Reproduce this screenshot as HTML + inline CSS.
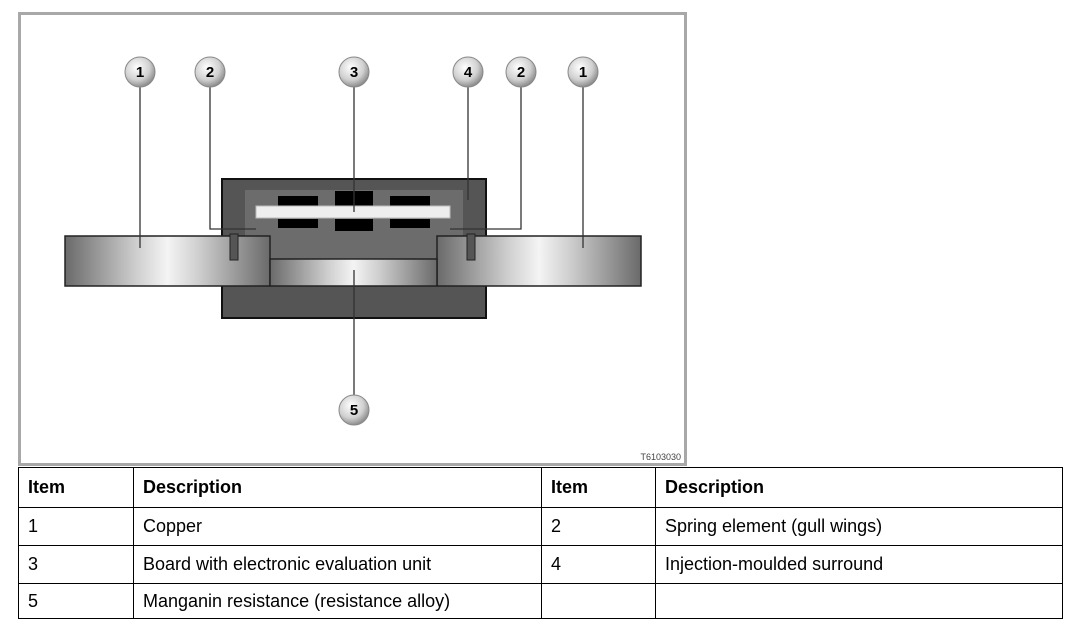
<!DOCTYPE html>
<html><head><style>
body{margin:0;background:#fff;width:1071px;height:629px;position:relative;overflow:hidden;font-family:"Liberation Sans",Arial,sans-serif}
svg{position:absolute;left:0;top:0}
table{position:absolute;left:18px;top:467px;border-collapse:collapse;font-size:18px;color:#000}
td{border:1px solid #000;padding:0 0 0 9px;vertical-align:middle}
</style></head><body>
<svg width="1071" height="470" viewBox="0 0 1071 470">
<defs>
<linearGradient id="cu" x1="0" x2="1" y1="0" y2="0">
<stop offset="0" stop-color="#6a6a6a"/><stop offset="0.35" stop-color="#cfcfcf"/><stop offset="0.5" stop-color="#f4f4f4"/><stop offset="0.65" stop-color="#cfcfcf"/><stop offset="1" stop-color="#6a6a6a"/>
</linearGradient>
<radialGradient id="ball" cx="0.4" cy="0.35" r="0.7">
<stop offset="0" stop-color="#fff"/><stop offset="0.6" stop-color="#d0d0d0"/><stop offset="1" stop-color="#808080"/>
</radialGradient>
</defs>
<rect x="19.5" y="13.5" width="666" height="451" fill="#fff" stroke="#a8a8a8" stroke-width="3"/>
<rect x="222" y="179" width="264" height="139" fill="#555" stroke="#111" stroke-width="2"/>
<rect x="245" y="190" width="218" height="69" fill="#6c6c6c"/>
<rect x="278" y="196" width="40" height="10" fill="#000"/>
<rect x="335" y="191" width="38" height="15" fill="#000"/>
<rect x="390" y="196" width="40" height="10" fill="#000"/>
<rect x="278" y="219" width="40" height="9" fill="#000"/>
<rect x="335" y="219" width="38" height="12" fill="#000"/>
<rect x="390" y="219" width="40" height="9" fill="#000"/>
<rect x="256" y="206" width="194" height="12" fill="#eee" stroke="#bbb"/>
<rect x="65" y="236" width="205" height="50" fill="url(#cu)" stroke="#222" stroke-width="1.5"/>
<rect x="437" y="236" width="204" height="50" fill="url(#cu)" stroke="#222" stroke-width="1.5"/>
<rect x="270" y="259" width="167" height="27" fill="url(#cu)" stroke="#222" stroke-width="1.5"/>
<rect x="230" y="234" width="8" height="26" fill="#555" stroke="#222"/>
<rect x="467" y="234" width="8" height="26" fill="#555" stroke="#222"/>
<g stroke="#333" stroke-width="1.3" fill="none">
<path d="M140 86V248"/><path d="M210 86V229H256"/><path d="M354 86V212"/><path d="M468 86V200"/>
<path d="M521 86V229H450"/><path d="M583 86V248"/><path d="M354 396V270"/>
</g>
<g font-family="Liberation Sans" font-weight="bold" font-size="15" text-anchor="middle">
<g><circle cx="140" cy="72" r="15" fill="url(#ball)" stroke="#888"/><text x="140" y="77">1</text></g>
<g><circle cx="210" cy="72" r="15" fill="url(#ball)" stroke="#888"/><text x="210" y="77">2</text></g>
<g><circle cx="354" cy="72" r="15" fill="url(#ball)" stroke="#888"/><text x="354" y="77">3</text></g>
<g><circle cx="468" cy="72" r="15" fill="url(#ball)" stroke="#888"/><text x="468" y="77">4</text></g>
<g><circle cx="521" cy="72" r="15" fill="url(#ball)" stroke="#888"/><text x="521" y="77">2</text></g>
<g><circle cx="583" cy="72" r="15" fill="url(#ball)" stroke="#888"/><text x="583" y="77">1</text></g>
<g><circle cx="354" cy="410" r="15" fill="url(#ball)" stroke="#888"/><text x="354" y="415">5</text></g>
</g>
<text x="681" y="460" font-size="9" text-anchor="end" fill="#444" font-family="Liberation Sans">T6103030</text>
</svg>
<table>
<tr style="height:40px;font-weight:bold"><td style="width:105px">Item</td><td style="width:398px">Description</td><td style="width:104px">Item</td><td style="width:397px">Description</td></tr>
<tr style="height:38px"><td>1</td><td>Copper</td><td>2</td><td>Spring element (gull wings)</td></tr>
<tr style="height:38px"><td>3</td><td>Board with electronic evaluation unit</td><td>4</td><td>Injection-moulded surround</td></tr>
<tr style="height:35px"><td>5</td><td>Manganin resistance (resistance alloy)</td><td></td><td></td></tr>
</table>
</body></html>
